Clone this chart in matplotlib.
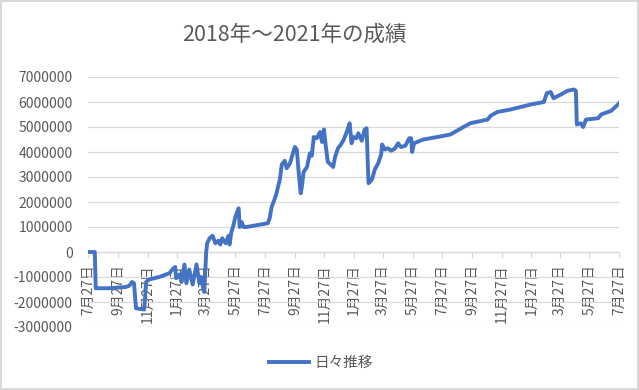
import numpy as np
import pandas as pd
import matplotlib
matplotlib.use("Agg")
import matplotlib.pyplot as plt
import matplotlib.dates as mdates
from matplotlib.ticker import FuncFormatter, MultipleLocator

plt.rcParams['font.family'] = ['Noto Sans CJK JP', 'DejaVu Sans']

# values (yen)
dates = [
    "2018-07-27", "2018-08-10", "2018-08-12", "2018-09-08", "2018-10-13",
    "2018-10-20", "2018-10-26", "2018-10-30", "2018-11-03", "2018-11-20",
    "2018-11-24", "2018-11-30", "2018-12-21", "2019-01-11", "2019-01-17",
    "2019-01-23", "2019-01-25", "2019-02-01", "2019-02-05", "2019-02-11",
    "2019-02-15", "2019-02-21", "2019-02-28", "2019-03-08", "2019-03-14",
    "2019-03-18", "2019-03-22", "2019-03-24", "2019-03-28", "2019-03-30",
    "2019-04-04", "2019-04-10", "2019-04-16", "2019-04-22", "2019-04-26",
    "2019-04-30", "2019-05-07", "2019-05-13", "2019-05-15", "2019-05-19",
    "2019-05-23", "2019-05-27", "2019-06-03", "2019-06-05", "2019-06-09",
    "2019-06-13", "2019-06-19", "2019-08-02", "2019-08-06", "2019-08-10",
    "2019-08-16", "2019-08-20", "2019-08-27", "2019-08-31", "2019-09-06",
    "2019-09-10", "2019-09-17", "2019-09-23", "2019-09-27", "2019-10-01",
    "2019-10-05", "2019-10-09", "2019-10-11", "2019-10-15", "2019-10-22",
    "2019-10-28", "2019-11-01", "2019-11-05", "2019-11-11", "2019-11-18",
    "2019-11-22", "2019-11-26", "2019-11-30", "2019-12-04", "2019-12-10",
    "2019-12-15", "2019-12-19", "2019-12-25", "2019-12-31", "2020-01-06",
    "2020-01-12", "2020-01-18", "2020-01-22", "2020-01-26", "2020-02-01",
    "2020-02-05", "2020-02-12", "2020-02-18", "2020-02-22", "2020-02-24",
    "2020-02-26", "2020-03-04", "2020-03-10", "2020-03-17", "2020-03-23",
    "2020-03-25", "2020-03-31", "2020-04-06", "2020-04-13", "2020-04-21",
    "2020-04-27", "2020-05-03", "2020-05-12", "2020-05-20", "2020-05-24",
    "2020-05-26", "2020-05-30", "2020-06-18", "2020-07-17", "2020-08-13",
    "2020-09-09", "2020-09-23", "2020-10-29", "2020-11-04", "2020-11-18",
    "2020-12-15", "2021-01-26", "2021-02-22", "2021-02-28", "2021-03-08",
    "2021-03-14", "2021-03-29", "2021-04-12", "2021-04-25", "2021-04-29",
    "2021-05-01", "2021-05-09", "2021-05-14", "2021-05-20", "2021-06-14",
    "2021-06-20", "2021-07-11", "2021-07-25", "2021-07-27",
]
daily = [
    0, 0, -1450000, -1450000, -1400000,
    -1350000, -1200000, -1250000, -2250000, -2300000,
    -1200000, -1100000, -1000000, -850000, -700000,
    -600000, -1050000, -900000, -1200000, -500000,
    -1250000, -700000, -1300000, -500000, -1250000,
    -1000000, -1500000, -1600000, 0, 350000,
    550000, 650000, 350000, 450000, 300000,
    550000, 350000, 650000, 300000, 800000,
    1050000, 1400000, 1750000, 1000000, 1200000,
    1000000, 1000000, 1150000, 1350000, 1800000,
    2100000, 2350000, 2900000, 3500000, 3650000,
    3350000, 3550000, 3950000, 4200000, 4100000,
    3150000, 2350000, 2550000, 3200000, 3400000,
    3950000, 3850000, 4600000, 4550000, 4800000,
    4400000, 4900000, 4200000, 3600000, 3500000,
    3400000, 3800000, 4150000, 4300000, 4500000,
    4800000, 5150000, 4350000, 4600000, 4550000,
    4750000, 4450000, 4900000, 4950000, 3800000,
    2750000, 2900000, 3300000, 3550000, 3900000,
    4300000, 4100000, 4150000, 4050000, 4150000,
    4350000, 4200000, 4250000, 4550000, 4550000,
    4000000, 4350000, 4500000, 4600000, 4700000,
    5000000, 5150000, 5300000, 5450000, 5600000,
    5700000, 5900000, 6000000, 6350000, 6400000,
    6150000, 6300000, 6450000, 6500000, 6450000,
    5100000, 5150000, 5000000, 5300000, 5350000,
    5500000, 5650000, 5900000, 5950000,
]

title = "2018年～2021年の成績"
series_name = "日々推移"

x = pd.to_datetime(dates)
grey = "#595959"
grid = "#d9d9d9"

fig = plt.figure(figsize=(6.39, 3.90), dpi=100)
fig.patch.set_edgecolor(grid)
fig.patch.set_linewidth(1.5)
ax = fig.add_axes([88 / 639, 1 - 327 / 390, 531 / 639, 250 / 390])

ax.plot(x, daily, color="#4472C4", linewidth=2.8, zorder=3,
        solid_joinstyle="round", label=series_name)

ax.set_ylim(-3000000, 7000000)
ax.set_xlim(pd.Timestamp("2018-07-27"), pd.Timestamp("2021-07-27"))
ax.yaxis.set_major_locator(MultipleLocator(1000000))
ax.yaxis.set_major_formatter(FuncFormatter(lambda v, p: f"{int(v)}"))
ax.grid(axis="y", color=grid, linewidth=0.9)
ax.set_axisbelow(True)

ax.xaxis.set_major_locator(mdates.MonthLocator(bymonth=[1, 3, 5, 7, 9, 11], bymonthday=27))
ax.xaxis.set_major_formatter(FuncFormatter(
    lambda v, p: f"{mdates.num2date(v).month}月{mdates.num2date(v).day}日"))

for s in ["left", "right", "top"]:
    ax.spines[s].set_visible(False)
ax.spines["bottom"].set_position(("data", 0))
ax.spines["bottom"].set_color(grid)
ax.spines["bottom"].set_linewidth(0.9)

ax.tick_params(axis="y", length=0, pad=11, labelsize=10, labelcolor=grey)
ax.tick_params(axis="x", length=4, color=grid, pad=5, labelsize=10,
               labelcolor=grey, labelrotation=90)

fig.text(294 / 639, 1 - 35 / 390, title, ha="center", va="center",
         fontsize=15.5, color=grey)

fig.legend(loc="center", bbox_to_anchor=(321 / 639, 1 - 363 / 390),
           frameon=False, fontsize=10.5, labelcolor=grey,
           handlelength=2.7, handletextpad=0.4)

fig.savefig("out.png", dpi=100)
